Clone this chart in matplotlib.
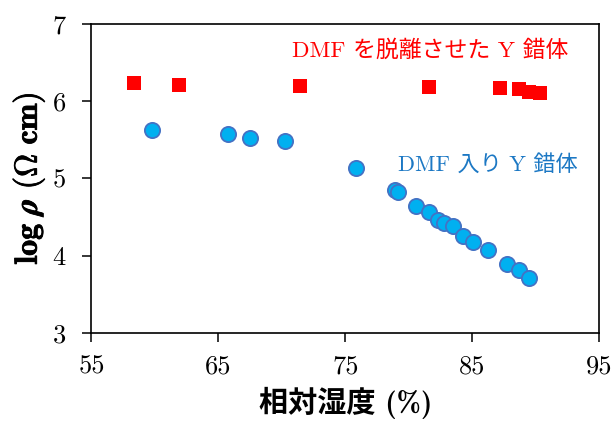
import matplotlib
matplotlib.use('Agg')
import matplotlib.pyplot as plt
import matplotlib.patheffects as pe

# relative humidity (%) and log resistivity
rh_desorbed = [58.35, 61.9, 71.43, 81.6, 87.19, 88.66, 89.5, 90.34]
logrho_desorbed = [6.24, 6.21, 6.20, 6.19, 6.17, 6.16, 6.12, 6.11]

rh_dmf = [59.79, 65.78, 67.47, 70.27, 75.84, 78.92, 79.13, 80.6, 81.6, 82.33,
          82.82, 83.47, 84.28, 85.08, 86.27, 87.77, 88.69, 89.45]
logrho_dmf = [5.63, 5.58, 5.52, 5.48, 5.14, 4.85, 4.82, 4.65, 4.57, 4.46,
              4.42, 4.39, 4.25, 4.18, 4.07, 3.89, 3.81, 3.71]

xticks = [55, 65, 75, 85, 95]
yticks = [3, 4, 5, 6, 7]

label_desorbed = 'DMF を脱離させた Y 錯体'
label_dmf = 'DMF 入り Y 錯体'

plt.rcParams['mathtext.fontset'] = 'cm'
plt.rcParams['axes.unicode_minus'] = False
jp_serif = ['cmr10', 'Noto Sans CJK JP']
jp_bold = ['cmb10', 'Noto Sans CJK JP']

fig = plt.figure(figsize=(6.14, 4.26), dpi=100)
ax = fig.add_axes([0.149, 0.2183, 0.8266, 0.7254])

ax.scatter(rh_desorbed, logrho_desorbed, marker='s', s=110, color='#ff0000',
           linewidths=0, zorder=3)
ax.scatter(rh_dmf, logrho_dmf, marker='o', s=120, facecolor='#00b0f0',
           edgecolor='#4472c4', linewidths=1.3, zorder=3)

ax.text(81.67, 6.66, label_desorbed, color='#ff0000', fontsize=16.5,
        family=jp_serif, ha='center', va='center')
ax.text(86.25, 5.18, label_dmf, color='#1c78c4', fontsize=16,
        family=jp_serif, ha='center', va='center')

ax.set_xlim(55, 95)
ax.set_ylim(3, 7)
ax.set_xticks(xticks)
ax.set_yticks(yticks)
ax.tick_params(direction='out', length=6.5, width=1.1, labelsize=19)
ax.tick_params(axis='x', pad=9)
ax.tick_params(axis='y', pad=12)
for lab in ax.get_xticklabels() + ax.get_yticklabels():
    lab.set_family('cmr10')
for sp in ax.spines.values():
    sp.set_linewidth(1.2)

ax.set_xlabel('相対湿度 (%)', fontsize=21, family=jp_bold, fontweight='bold',
              labelpad=6)
yl = ax.set_ylabel(r'$\mathbf{log}\ \boldsymbol{\rho}\ \mathbf{(}\Omega\ \mathbf{cm)}$',
                   fontsize=23, labelpad=4)
yl.set_path_effects([pe.withStroke(linewidth=0.6, foreground='black')])

fig.savefig('out.png', dpi=100)
